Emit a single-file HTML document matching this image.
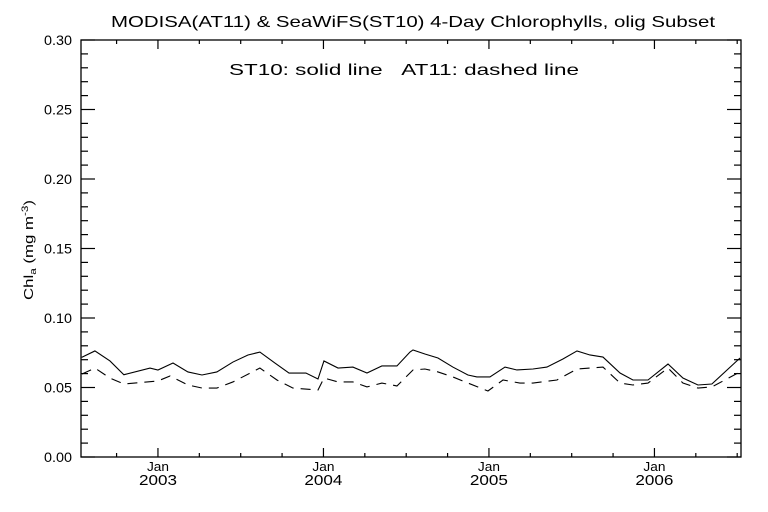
<!DOCTYPE html>
<html><head><meta charset="utf-8"><style>
body{margin:0;background:#fff}
svg{display:block;font-family:"Liberation Sans",sans-serif}
</style></head><body>
<svg id="c" width="768" height="512">
<rect width="768" height="512" fill="#fff"/>
<text x="111" y="27" font-size="16" textLength="604" lengthAdjust="spacingAndGlyphs">MODISA(AT11) &amp; SeaWiFS(ST10) 4-Day Chlorophylls, olig Subset</text>
<text x="229" y="75" font-size="16" textLength="350" lengthAdjust="spacingAndGlyphs">ST10: solid line &#160;&#160;AT11: dashed line</text>
<text transform="translate(33,300) rotate(-90)" font-size="13" textLength="100" lengthAdjust="spacingAndGlyphs">Chl<tspan font-size="9" dy="3">a</tspan><tspan dy="-3"> (mg m</tspan><tspan font-size="9" dy="-5">-3</tspan><tspan dy="5">)</tspan></text>
<g id="axes"></g>
<g id="series"></g>
</svg>
<script>
const dates=[2002.539,2002.619,2002.710,2002.794,2002.952,2003.000,2003.091,2003.181,2003.266,2003.356,2003.453,2003.544,2003.616,2003.707,2003.792,2003.894,2003.967,2004.003,2004.088,2004.178,2004.263,2004.353,2004.444,2004.523,2004.541,2004.613,2004.692,2004.782,2004.873,2004.927,2005.006,2005.097,2005.169,2005.266,2005.350,2005.447,2005.532,2005.610,2005.689,2005.792,2005.870,2005.961,2006.082,2006.172,2006.263,2006.347,2006.517];
const st10=[0.0717,0.0763,0.0691,0.0592,0.0640,0.0626,0.0676,0.0612,0.0590,0.0612,0.0683,0.0734,0.0755,0.0676,0.0604,0.0604,0.0561,0.0691,0.0640,0.0647,0.0604,0.0655,0.0655,0.0755,0.0770,0.0741,0.0712,0.0647,0.0590,0.0576,0.0576,0.0647,0.0626,0.0633,0.0647,0.0705,0.0763,0.0734,0.0719,0.0604,0.0554,0.0554,0.0669,0.0568,0.0518,0.0525,0.0712];
const datesAT=[2002.541,2002.619,2002.710,2002.794,2003.000,2003.073,2003.181,2003.266,2003.356,2003.453,2003.616,2003.719,2003.816,2003.967,2004.003,2004.088,2004.178,2004.263,2004.353,2004.444,2004.541,2004.613,2004.692,2004.782,2004.873,2004.994,2005.085,2005.187,2005.266,2005.411,2005.532,2005.689,2005.792,2005.870,2005.961,2006.082,2006.172,2006.263,2006.347,2006.517];
const at11=[0.0597,0.0640,0.0568,0.0525,0.0547,0.0583,0.0518,0.0496,0.0496,0.0540,0.0640,0.0554,0.0496,0.0482,0.0568,0.0540,0.0540,0.0504,0.0532,0.0511,0.0626,0.0633,0.0612,0.0576,0.0532,0.0475,0.0554,0.0532,0.0532,0.0554,0.0633,0.0647,0.0532,0.0518,0.0532,0.0640,0.0532,0.0496,0.0504,0.0612];
const yTicks=["0.00","0.05","0.10","0.15","0.20","0.25","0.30"];
const years=["2003","2004","2005","2006"];
const L=81,R=741,T=40,B=457,YMAX=0.30;
const X0=2002.535,X1=2006.523;
const x=t=>L+(t-X0)/(X1-X0)*(R-L);
const y=v=>B-v/YMAX*(B-T);
const NS="http://www.w3.org/2000/svg";
function mk(tag,parent,attrs){const e=document.createElementNS(NS,tag);for(const k in attrs)e.setAttribute(k,attrs[k]);parent.appendChild(e);return e;}
const ax=document.getElementById('axes');
const frame=mk('rect',ax,{x:L,y:T,width:R-L,height:B-T,fill:'none',stroke:'#000','stroke-width':1.3});


for(let i=0;i<=30;i++){const v=i*0.01,yy=y(v),len=i%5==0?14:7;
 mk('line',ax,{x1:L,x2:L+len,y1:yy,y2:yy,stroke:'#000','stroke-width':1.2});
 mk('line',ax,{x1:R,x2:R-len,y1:yy,y2:yy,stroke:'#000','stroke-width':1.2});}
yTicks.forEach(s=>{const t=mk('text',ax,{x:44,y:y(parseFloat(s))+5,'font-size':14,textLength:28,lengthAdjust:'spacingAndGlyphs'});t.textContent=s;
 
 });
for(let yr=2002;yr<=2006;yr++)for(let q=0;q<4;q++){const t=yr+q*0.25;if(t<X0||t>X1)continue;const xx=x(t),len=q==0?9:4;
 mk('line',ax,{x1:xx,x2:xx,y1:B,y2:B-len,stroke:'#000','stroke-width':1.2});
 mk('line',ax,{x1:xx,x2:xx,y1:T,y2:T+len,stroke:'#000','stroke-width':1.2});}
years.forEach(s=>{const xx=x(parseFloat(s));
 const j=mk('text',ax,{x:xx-11,y:471,'font-size':13,textLength:22,lengthAdjust:'spacingAndGlyphs'});j.textContent='Jan';
 
 
 const t=mk('text',ax,{x:xx-19,y:485,'font-size':15,textLength:38,lengthAdjust:'spacingAndGlyphs'});t.textContent=s;
 
 });
const sg=document.getElementById('series');
const p1=mk('polyline',sg,{points:dates.map((d,i)=>x(d)+','+y(st10[i])).join(' '),fill:'none',stroke:'#000','stroke-width':1.1});


const p2=mk('polyline',sg,{points:datesAT.map((d,i)=>x(d)+','+y(at11[i])).join(' '),fill:'none',stroke:'#000','stroke-width':1.1,'stroke-dasharray':'10 7'});


</script>
</body></html>
